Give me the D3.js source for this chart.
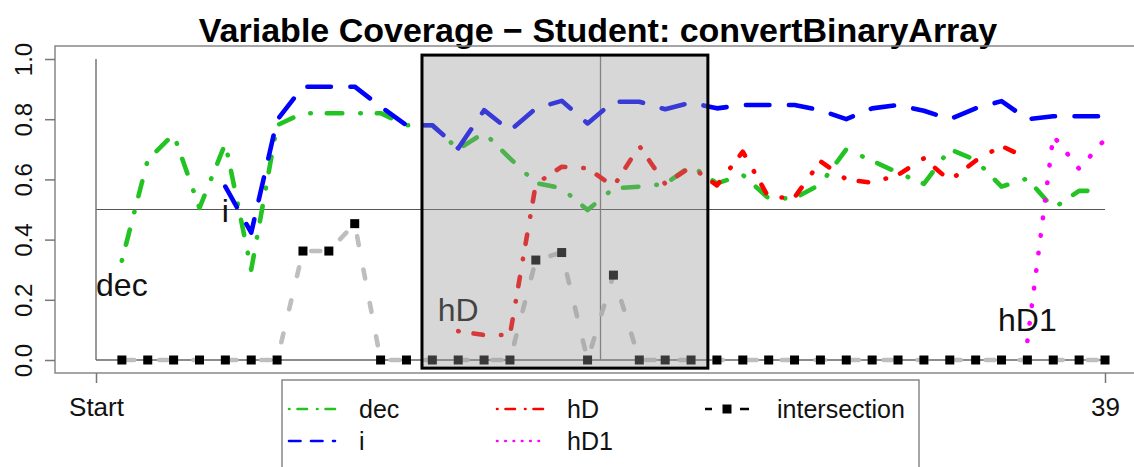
<!DOCTYPE html>
<html>
<head>
<meta charset="utf-8">
<script src="https://cdn.jsdelivr.net/npm/d3@7"></script>
<style>
  body { margin: 0; background: #fff; }
  svg { display: block; }
  text { font-family: "Liberation Sans", Arial, Helvetica, sans-serif; }
</style>
</head>
<body>
<svg id="chart" width="1134" height="467"></svg>
<script>
// ---- data: coverage per step (index 0 = Start ... 39) ----
const xTickValues = [0, 39];
const xTickLabels = ["Start", "39"];
const yTickValues = [0, 0.2, 0.4, 0.6, 0.8, 1.0];

const dec = [null, 0.33, 0.665, 0.75, 0.505, 0.72, 0.30, 0.78, 0.82, 0.82,
  0.82, 0.82, 0.78, 0.78, 0.70, 0.755, 0.67, 0.588, 0.571, 0.498,
  0.57, 0.576, 0.585, 0.645, 0.587, 0.615, 0.537, 0.537, 0.584, 0.70,
  0.662, 0.622, 0.585, 0.70, 0.664, 0.576, 0.603, 0.504, 0.562, 0.562];

const iCov = [null, null, null, null, null, 0.576, 0.423, 0.797, 0.908, 0.908,
  0.908, 0.842, 0.78, 0.78, 0.703, 0.83, 0.762, 0.836, 0.861, 0.786,
  0.858, 0.858, 0.833, 0.855, 0.836, 0.847, 0.847, 0.847, 0.83, 0.80,
  0.836, 0.847, 0.828, 0.80, 0.836, 0.86, 0.80, 0.81, 0.81, 0.81];

const hD = [null, null, null, null, null, null, null, null, null, null,
  null, null, null, null, 0.096, 0.083, 0.083, 0.585, 0.642, 0.637,
  0.576, 0.711, 0.585, 0.642, 0.58, 0.692, 0.54, 0.54, 0.66, 0.60,
  0.589, 0.615, 0.67, 0.596, 0.662, 0.711, 0.67, null, null, null];

const hD1 = [null, null, null, null, null, null, null, null, null, null,
  null, null, null, null, null, null, null, null, null, null,
  null, null, null, null, null, null, null, null, null, null,
  null, null, null, null, null, null, 0.063, 0.745, 0.635, 0.733];

const intersection = [null, 0, 0, 0, 0, 0, 0, 0, 0.362, 0.362,
  0.453, 0, 0, 0, 0, 0, 0, 0.332, 0.357, 0,
  0.282, 0, 0, 0, 0, 0, 0, 0, 0, 0,
  0, 0, 0, 0, 0, 0, 0, 0, 0, 0];

const seriesNames = ["dec", "i", "hD", "hD1"];
const seriesValues = [dec, iCov, hD, hD1];
const intersectionName = "intersection";

const threshold = 0.5;
const windowRange = [12.6, 23.65];   // shaded step window
const windowMarker = 19.5;           // current step inside the window
const windowYRange = [-0.027, 1.013];

const titleText = "Variable Coverage \u2212 Student: convertBinaryArray";

// ---- styling ----
const colors = { dec: "#22c322", i: "#0000ff", hD: "#ff0000", hD1: "#ff00ff" };
const dashes = {
  dec: "0.5,16,15.5,18",
  i: "23.5,19.5",
  hD: "0.5,15,9.5,18",
  hD1: "0.5,17.2"
};
const legendDashes = {
  dec: "0.5,8,9.5,10",
  i: "11.5,10.5",
  hD: "0.5,8,9.5,10",
  hD1: "0.5,7.8"
};
const lineWidth = 4.6;
const axisGray = "#777";

const svg = d3.select("#chart");

const x = d3.scaleLinear().domain([0, 39]).range([96, 1105]);
const y = d3.scaleLinear().domain([0, 1]).range([360, 59]);

const frame = { left: 55, top: 46, right: 1140, bottom: 373 };

// title
svg.append("text")
  .attr("x", 598).attr("y", 42)
  .attr("text-anchor", "middle")
  .attr("font-size", 34).attr("font-weight", "bold")
  .attr("fill", "#000")
  .text(titleText);

// plot frame
svg.append("rect")
  .attr("x", frame.left).attr("y", frame.top)
  .attr("width", frame.right - frame.left).attr("height", frame.bottom - frame.top)
  .attr("fill", "none").attr("stroke", "#888").attr("stroke-width", 1.5);

// y axis on the frame
const yAxis = svg.append("g")
  .attr("transform", `translate(${frame.left},0)`)
  .call(d3.axisLeft(y).tickValues(yTickValues).tickSize(10).tickFormat(d3.format(".1f")));
yAxis.select(".domain").remove();
yAxis.selectAll(".tick line").attr("stroke", axisGray).attr("stroke-width", 1.5);
yAxis.selectAll(".tick text")
  .attr("x", null).attr("dy", null)
  .attr("transform", "translate(-23,0) rotate(-90)")
  .attr("text-anchor", "middle")
  .attr("font-size", 24).attr("fill", "#111")
  .attr("font-family", "Liberation Sans, Arial, sans-serif");

// x axis on the frame
const xAxis = svg.append("g")
  .attr("transform", `translate(0,${frame.bottom})`)
  .call(d3.axisBottom(x).tickValues(xTickValues).tickSize(10)
    .tickFormat((d, k) => xTickLabels[k]));
xAxis.select(".domain").remove();
xAxis.selectAll(".tick line").attr("stroke", axisGray).attr("stroke-width", 1.5);
xAxis.selectAll(".tick text")
  .attr("y", 43).attr("dy", null)
  .attr("font-size", 26).attr("fill", "#111")
  .attr("font-family", "Liberation Sans, Arial, sans-serif");

// inner reference lines
const inner = svg.append("g");
inner.append("line")
  .attr("x1", x(0)).attr("x2", x(39)).attr("y1", y(threshold)).attr("y2", y(threshold))
  .attr("stroke", "#555").attr("stroke-width", 1.2);
inner.append("line")
  .attr("x1", x(0)).attr("x2", x(0)).attr("y1", y(0)).attr("y2", y(1))
  .attr("stroke", axisGray).attr("stroke-width", 1.5);
inner.append("line")
  .attr("x1", x(0)).attr("x2", x(39)).attr("y1", y(0)).attr("y2", y(0))
  .attr("stroke", "#666").attr("stroke-width", 1.5);
inner.append("line")
  .attr("x1", x(windowMarker)).attr("x2", x(windowMarker))
  .attr("y1", y(windowYRange[1])).attr("y2", y(0))
  .attr("stroke", "#777").attr("stroke-width", 1.3);

const line = d3.line()
  .defined(d => d != null)
  .x((d, k) => x(k))
  .y(d => y(d));

// intersection trace with square markers
svg.append("path")
  .attr("d", line(intersection))
  .attr("fill", "none")
  .attr("stroke", "#bebebe")
  .attr("stroke-width", lineWidth)
  .attr("stroke-linecap", "round")
  .attr("stroke-linejoin", "round")
  .attr("stroke-dasharray", "9,25")
  .attr("stroke-dashoffset", 30.5);

const sq = 9;
svg.append("g").selectAll("rect")
  .data(intersection.map((v, k) => ({ v, k })).filter(d => d.v != null))
  .join("rect")
  .attr("x", d => x(d.k) - sq / 2)
  .attr("y", d => y(d.v) - sq / 2)
  .attr("width", sq).attr("height", sq)
  .attr("fill", "#000");

// variable coverage lines
seriesNames.forEach((name, s) => {
  svg.append("path")
    .attr("d", line(seriesValues[s]))
    .attr("fill", "none")
    .attr("stroke", colors[name])
    .attr("stroke-width", lineWidth)
    .attr("stroke-linecap", "round")
    .attr("stroke-linejoin", "round")
    .attr("stroke-dasharray", dashes[name]);
});

// name label at the first defined step of each variable
seriesNames.forEach((name, s) => {
  const vals = seriesValues[s];
  const k = vals.findIndex(v => v != null);
  const v = vals[k];
  const below = v >= 0.2;
  svg.append("text")
    .attr("x", x(k))
    .attr("y", y(v) + (below ? 35 : -10))
    .attr("text-anchor", "middle")
    .attr("font-size", 32)
    .attr("fill", "#111")
    .text(name);
});

// shaded window drawn over the traces
svg.append("rect")
  .attr("x", x(windowRange[0]))
  .attr("y", y(windowYRange[1]))
  .attr("width", x(windowRange[1]) - x(windowRange[0]))
  .attr("height", y(windowYRange[0]) - y(windowYRange[1]))
  .attr("fill", "rgba(150,150,150,0.38)")
  .attr("stroke", "#000")
  .attr("stroke-width", 3);

// legend
const legend = svg.append("g");
legend.append("rect")
  .attr("x", 282).attr("y", 380)
  .attr("width", 637).attr("height", 120)
  .attr("fill", "#fff").attr("stroke", "#888").attr("stroke-width", 1.5);

const colX = [288, 496, 705];
const rowY = [409, 441];
const sampleLen = 47;
const entries = [
  { name: "dec", col: 0, row: 0 },
  { name: "i", col: 0, row: 1 },
  { name: "hD", col: 1, row: 0 },
  { name: "hD1", col: 1, row: 1 },
  { name: intersectionName, col: 2, row: 0 }
];
entries.forEach(e => {
  const x0 = colX[e.col], yy = rowY[e.row];
  if (e.name === intersectionName) {
    legend.append("line")
      .attr("x1", x0).attr("x2", x0 + 44).attr("y1", yy).attr("y2", yy)
      .attr("stroke", "#000").attr("stroke-width", 2.6)
      .attr("stroke-dasharray", "7,28,9");
    legend.append("rect")
      .attr("x", x0 + 22 - sq / 2).attr("y", yy - sq / 2)
      .attr("width", sq).attr("height", sq).attr("fill", "#000");
  } else {
    legend.append("line")
      .attr("x1", x0 + 1).attr("x2", x0 + sampleLen).attr("y1", yy).attr("y2", yy)
      .attr("stroke", colors[e.name]).attr("stroke-width", 2.6)
      .attr("stroke-linecap", "round")
      .attr("stroke-dasharray", legendDashes[e.name]);
  }
  legend.append("text")
    .attr("x", x0 + (e.col === 2 ? 72 : 71))
    .attr("y", yy + 9)
    .attr("font-size", 25)
    .attr("fill", "#111")
    .text(e.name);
});
</script>
</body>
</html>
